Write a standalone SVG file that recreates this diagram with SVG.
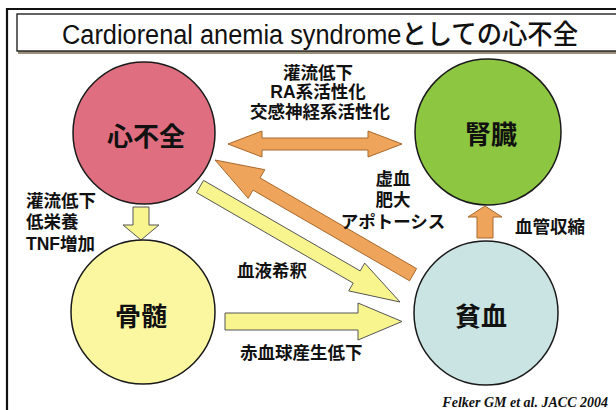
<svg xmlns="http://www.w3.org/2000/svg" width="616" height="410" viewBox="0 0 616 410">
<style>
.node circle{stroke:#1a1a1a;stroke-width:1.5}
.nt{font-family:"Noto Sans CJK JP","Liberation Sans",sans-serif;font-weight:bold;font-size:26px;text-anchor:middle;fill:#111}
.lb{font-family:"Liberation Sans","Noto Sans CJK JP",sans-serif;font-weight:bold;font-size:17.5px;fill:#111}
.mid{text-anchor:middle}
.or{fill:#EFA45C;stroke:#A8682A;stroke-width:1}
.ye{fill:#F8F48E;stroke:#555;stroke-width:1}
</style>
<rect width="616" height="410" fill="#fff"/>
<path d="M7,410 V9 H616" fill="none" stroke="#111" stroke-width="2.2"/>
<rect x="18" y="51" width="600" height="3" fill="#9a8f78"/>
<rect x="17" y="14" width="610" height="37" fill="#fff" stroke="#111" stroke-width="1.3"/>
<text x="62" y="44" font-family="Liberation Sans,'Noto Sans CJK JP',sans-serif" font-size="27" font-weight="500" fill="#111" textLength="516" lengthAdjust="spacingAndGlyphs">Cardiorenal anemia syndromeとしての心不全</text>

<g id="connectors">
<polygon class="or" points="228,144 262,131 262,138 368,138 368,131 402,144 368,157 368,150 262,150 262,157"/>
<polygon class="or" points="215,160 264.8,169.7 260,177.9 416.6,268.6 409.6,280.8 253,190.1 248.2,198.3"/>
<polygon class="ye" points="400,302 348.7,290.9 353.2,283.1 196.5,192.6 203.5,180.4 360.2,270.9 364.7,263.1"/>
<polygon class="ye" points="225,313 358,313 358,303 402,321.5 358,340 358,330 225,330"/>
<polygon class="ye" points="133,207 149,207 149,225 159,225 141,240 123,225 133,225"/>
<polygon class="or" points="485,206 502,217 493,217 493,238 477,238 477,217 468,217"/>
<text class="lb mid" x="318" y="79">灌流低下</text>
<text class="lb mid" x="318" y="98">RA系活性化</text>
<text class="lb mid" x="320" y="118">交感神経系活性化</text>
<text class="lb" x="26" y="207">灌流低下</text>
<text class="lb" x="26" y="228">低栄養</text>
<text class="lb" x="26" y="250">TNF増加</text>
<text class="lb mid" x="393" y="185">虚血</text>
<text class="lb mid" x="393" y="206">肥大</text>
<text class="lb mid" x="393" y="228">アポトーシス</text>
<text class="lb" x="237" y="277">血液希釈</text>
<text class="lb" x="240" y="359">赤血球産生低下</text>
<text class="lb" x="515" y="233">血管収縮</text>
</g>

<g id="heart" class="node"><circle cx="144" cy="133" r="71" fill="#DF6F80"/><text class="nt" x="146" y="146">心不全</text></g>
<g id="kidney" class="node"><circle cx="488" cy="132" r="73" fill="#8DC641"/><text class="nt" x="491" y="144">腎臓</text></g>
<g id="marrow" class="node"><circle cx="143" cy="312" r="72" fill="#FBF7A1"/><text class="nt" x="141" y="326">骨髄</text></g>
<g id="anemia" class="node"><circle cx="486" cy="313" r="72" fill="#C9E4E2"/><text class="nt" x="481" y="326">貧血</text></g>

<text x="608" y="407" font-family="Liberation Serif,serif" font-style="italic" font-weight="bold" font-size="14" text-anchor="end" fill="#111">Felker GM et al. JACC 2004</text>
</svg>
